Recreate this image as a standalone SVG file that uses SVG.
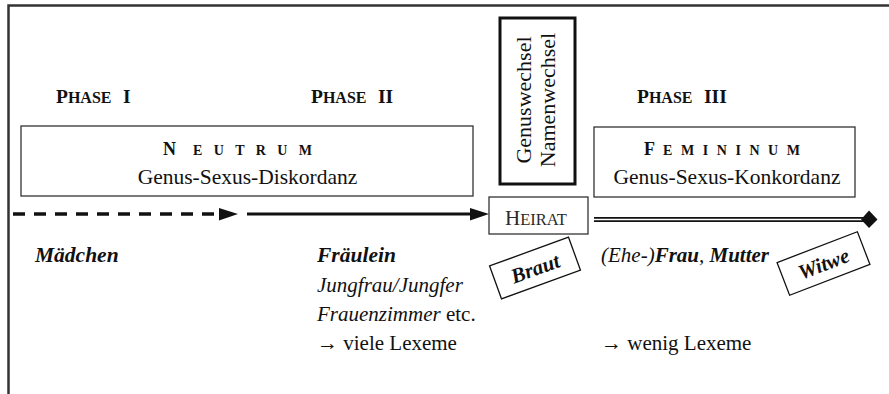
<svg xmlns="http://www.w3.org/2000/svg" width="889" height="394" viewBox="0 0 889 394">
<style>
.t{font-family:"Liberation Serif","Times New Roman",serif;fill:#111}
.b{font-weight:bold}
.i{font-style:italic}
.bi{font-weight:bold;font-style:italic}
.box{fill:#fff;stroke:#333;stroke-width:1.3}
.ph{font-size:19.5px;font-weight:bold}
.sc{font-size:16px}
</style>
<rect x="0" y="0" width="889" height="394" fill="#fff"/>
<path d="M8.5 394 V5.5 H889" fill="none" stroke="#333" stroke-width="2.5"/>

<g id="phase1"><text class="t ph" x="56" y="103">P<tspan class="sc">HASE</tspan></text><text class="t ph" x="123" y="103">I</text></g>
<g id="phase2"><text class="t ph" x="311" y="103">P<tspan class="sc">HASE</tspan></text><text class="t ph" x="378" y="103">II</text></g>
<g id="phase3"><text class="t ph" x="637" y="103">P<tspan class="sc">HASE</tspan></text><text class="t ph" x="704" y="103">III</text></g>

<g id="neutrum">
<rect class="box" x="21" y="126" width="452" height="70"/>
<text class="t b" x="163" y="155" font-size="18">N</text>
<text class="t b" x="193" y="155" font-size="14" textLength="119" lengthAdjust="spacing">EUTRUM</text>
<text class="t" x="247.5" y="184" font-size="21.5" text-anchor="middle">Genus-Sexus-Diskordanz</text>
</g>

<g id="wechsel">
<rect x="500" y="18" width="75" height="166" fill="#fff" stroke="#111" stroke-width="3"/>
<text class="t" transform="translate(531,100) rotate(-90)" font-size="22" text-anchor="middle">Genuswechsel</text>
<text class="t" transform="translate(555,100) rotate(-90)" font-size="22" text-anchor="middle">Namenwechsel</text>
</g>

<g id="femininum">
<rect class="box" x="594" y="127" width="261" height="70"/>
<text class="t b" x="644" y="155" font-size="18">F</text>
<text class="t b" x="663" y="155" font-size="14" textLength="137" lengthAdjust="spacing">EMININUM</text>
<text class="t" x="727" y="184" font-size="21.5" text-anchor="middle">Genus-Sexus-Konkordanz</text>
</g>

<g id="heirat">
<rect class="box" x="489" y="197" width="99" height="37"/>
<text class="t" x="505" y="225" font-size="21" fill="#2a2a2a" style="fill:#2a2a2a">H<tspan font-size="16.5">EIRAT</tspan></text>
</g>

<g id="connectors">
<line x1="13" y1="214" x2="216" y2="214" stroke="#111" stroke-width="3.5" stroke-dasharray="12 9"/>
<polygon points="219,208 238,214 219,220.5" fill="#111"/>
<line x1="247" y1="214" x2="472" y2="214" stroke="#111" stroke-width="3"/>
<polygon points="470,208 489,214 470,220.5" fill="#111"/>
<line x1="594" y1="219.5" x2="864" y2="219.5" stroke="#111" stroke-width="5"/>
<line x1="594" y1="219.5" x2="864" y2="219.5" stroke="#fff" stroke-width="1.4"/>
<polygon points="861,219.5 869,210.5 877.5,219.5 869,228" fill="#111"/>
</g>

<g id="braut">
<g transform="translate(535,268) rotate(-20)">
<rect x="-42" y="-17.5" width="84" height="35" fill="#fff" stroke="#111" stroke-width="1.3"/>
<text class="t bi" x="0" y="7.5" font-size="21" text-anchor="middle">Braut</text>
</g>
</g>

<g id="witwe">
<g transform="translate(823.5,263.5) rotate(-21)">
<rect x="-43" y="-17.5" width="86" height="35" fill="#fff" stroke="#111" stroke-width="1.3"/>
<text class="t bi" x="0" y="7.5" font-size="21" text-anchor="middle">Witwe</text>
</g>
</g>

<g id="lexeme1">
<text class="t bi" x="35" y="262" font-size="21.5">Mädchen</text>
</g>

<g id="lexeme2">
<text class="t bi" x="317" y="262" font-size="21.5">Fräulein</text>
<text class="t i" x="317" y="292" font-size="21">Jungfrau/Jungfer</text>
<text class="t" x="317" y="321" font-size="21"><tspan class="i">Frauenzimmer</tspan> etc.</text>
<text class="t" x="317" y="350" font-size="21">→ viele Lexeme</text>
</g>

<g id="lexeme3">
<text class="t" x="601" y="262" font-size="21"><tspan class="i">(Ehe-)</tspan><tspan class="bi">Frau</tspan><tspan class="i">, </tspan><tspan class="bi">Mutter</tspan></text>
<text class="t" x="601" y="350" font-size="21">→ wenig Lexeme</text>
</g>
</svg>
